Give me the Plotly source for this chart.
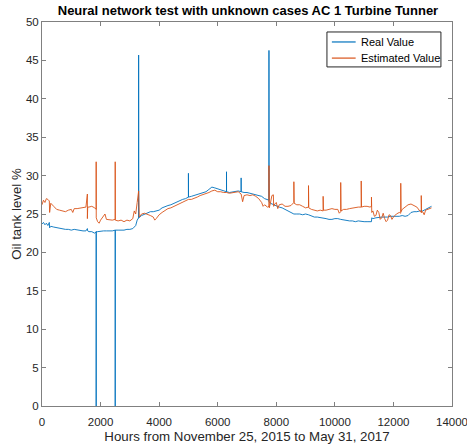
import plotly.graph_objects as go

# Real value (hours, %)
real_h = [0, 50, 100, 150, 200, 250, 260, 300, 400, 500, 600, 700, 800, 900, 1000, 1100, 1200, 1300,
          1400, 1500, 1550, 1560, 1600, 1700, 1800, 1850, 1850, 1852, 1900, 2000, 2100, 2200, 2300, 2400,
          2500, 2500, 2502, 2600, 2700, 2800, 2900, 3000, 3100, 3200, 3250, 3300, 3300, 3302, 3400, 3500,
          3600, 3700, 3800, 3900, 4000, 4100, 4200, 4300, 4400, 4500, 4600, 4700, 4800, 4900, 5000, 5000,
          5002, 5100, 5200, 5300, 5400, 5500, 5600, 5700, 5800, 5900, 6000, 6100, 6200, 6300, 6300, 6302,
          6400, 6500, 6600, 6700, 6800, 6800, 6802, 6900, 7000, 7100, 7200, 7300, 7400, 7500, 7600, 7700,
          7750, 7750, 7752, 7800, 7900, 8000, 8100, 8200, 8300, 8400, 8500, 8600, 8700, 8800, 8900, 9000,
          9100, 9200, 9300, 9400, 9500, 9600, 9700, 9800, 9900, 10000, 10100, 10200, 10300, 10400, 10500,
          10600, 10700, 10800, 10900, 11000, 11100, 11200, 11250, 11260, 11300, 11400, 11500, 11600, 11700,
          11800, 11900, 12000, 12100, 12200, 12300, 12400, 12500, 12600, 12700, 12800, 12900, 13000, 13100,
          13200, 13300]
real_v = [23.7, 23.9, 23.6, 23.8, 23.5, 23.9, 23.2, 23.4, 23.3, 23.2, 23.2, 23.1, 23.0, 23.0, 22.9, 23.0, 22.9, 22.9,
          22.8, 22.8, 23.1, 22.8, 22.7, 22.7, 22.5, 22.7, 0.0, 22.7, 22.7, 22.8, 22.8, 22.8, 22.8, 22.8,
          22.9, 0.0, 22.9, 22.9, 22.9, 22.9, 23.0, 23.0, 23.1, 23.5, 24.2, 24.5, 45.7, 24.5, 24.8, 25.0,
          25.2, 25.3, 25.3, 25.4, 25.5, 25.8, 26.0, 26.1, 26.2, 26.4, 26.6, 26.7, 26.9, 27.0, 27.2, 30.3,
          27.2, 27.3, 27.4, 27.5, 27.6, 27.8, 27.9, 28.2, 28.5, 28.4, 28.3, 28.2, 28.0, 27.9, 30.5, 27.9,
          27.8, 27.9, 28.0, 28.0, 27.9, 29.7, 27.9, 27.8, 27.8, 27.7, 27.6, 27.6, 27.5, 27.3, 27.0, 26.8,
          26.8, 46.3, 26.6, 26.4, 26.2, 26.0, 25.9, 25.8, 25.6, 25.3, 25.1, 25.0, 25.0, 25.0, 24.9, 25.0,
          24.9, 24.7, 24.6, 24.6, 24.5, 24.4, 24.4, 24.3, 24.3, 24.4, 24.4, 24.3, 24.2, 24.1, 24.1,
          24.1, 24.0, 24.1, 24.0, 24.0, 24.0, 24.0, 24.0, 24.5, 24.4, 24.5, 24.6, 24.6, 24.6,
          24.6, 24.7, 24.7, 24.7, 24.7, 24.8, 24.7, 24.8, 25.2, 25.3, 25.3, 25.4, 25.4, 25.6,
          25.8, 26.0]

# Estimated value (hours, %)
est_h = [0, 50, 100, 150, 200, 250, 260, 300, 400, 500, 600, 700, 800, 900, 1000, 1050, 1100, 1200, 1300,
         1400, 1500, 1550, 1550, 1560, 1600, 1700, 1800, 1850, 1850, 1852, 1900, 1950, 2000, 2100, 2150,
         2200, 2300, 2400, 2500, 2500, 2502, 2600, 2700, 2800, 2900, 3000, 3100, 3150, 3200, 3250, 3300,
         3320, 3400, 3500, 3600, 3700, 3800, 3850, 3900, 4000, 4100, 4200, 4300, 4400, 4500, 4600, 4700,
         4800, 4900, 5000, 5100, 5200, 5300, 5400, 5500, 5600, 5700, 5800, 5900, 6000, 6100, 6200, 6300,
         6400, 6500, 6600, 6700, 6800, 6850, 6900, 7000, 7100, 7200, 7300, 7400, 7500, 7550, 7600, 7700,
         7750, 7750, 7760, 7800, 7850, 7900, 7910, 7950, 8000, 8050, 8100, 8200, 8300, 8400, 8500, 8600,
         8600, 8610, 8700, 8800, 8900, 9000, 9100, 9100, 9110, 9200, 9300, 9400, 9500, 9600, 9600, 9610,
         9700, 9800, 9900, 10000, 10100, 10150, 10200, 10200, 10210, 10300, 10400, 10500, 10600, 10700,
         10800, 10900, 10900, 10910, 11000, 11100, 11200, 11250, 11250, 11260, 11300, 11350, 11400, 11450,
         11500, 11550, 11600, 11650, 11700, 11750, 11800, 11850, 11900, 11950, 12000, 12100, 12200, 12250,
         12250, 12260, 12300, 12400, 12500, 12600, 12700, 12800, 12900, 12950, 12950, 12960, 13000, 13050,
         13100, 13200, 13300]
est_v = [26.2, 26.8, 26.5, 27.0, 26.9, 26.7, 25.2, 26.4, 26.0, 25.6, 25.5, 25.4, 25.3, 25.5, 25.6, 25.2, 25.7, 25.7, 25.8,
         25.9, 25.9, 27.6, 24.4, 25.9, 25.9, 26.0, 25.8, 25.6, 31.8, 24.5, 24.0, 23.8, 24.2, 24.8, 25.0,
         24.3, 24.2, 24.2, 24.3, 31.8, 24.2, 24.1, 24.2, 24.0, 24.2, 24.1, 24.4, 25.4, 25.0, 26.5, 28.0,
         24.6, 25.0, 25.1, 25.0, 24.8, 24.6, 24.2, 24.4, 24.9, 25.2, 25.5, 25.7, 25.8, 26.0, 26.2, 26.4,
         26.6, 26.8, 26.9, 26.9, 27.0, 27.2, 27.4, 27.5, 27.6, 27.8, 28.0, 28.1, 27.9, 27.9, 27.8, 27.8,
         27.7, 27.8, 27.9, 27.9, 27.6, 26.6, 27.4, 27.5, 27.4, 27.5, 27.3, 27.0, 26.5, 26.0, 26.2, 25.9,
         26.0, 31.3, 25.8, 26.4, 27.4, 27.5, 26.0, 26.3, 26.5, 25.7, 26.2, 26.3, 26.0, 26.0, 26.1, 26.5,
         29.2, 26.4, 26.2, 26.2, 26.0, 25.8, 25.9, 28.7, 25.8, 25.6, 25.5, 25.4, 25.5, 25.4, 27.3, 25.5,
         25.5, 25.6, 25.7, 25.6, 25.6, 25.1, 25.3, 29.1, 25.4, 25.6, 25.6, 25.7, 25.8, 25.8,
         25.9, 25.9, 29.3, 25.9, 26.0, 26.0, 25.9, 26.0, 27.2, 25.2, 25.4, 24.7, 24.8, 25.5,
         25.2, 24.3, 24.5, 25.1, 24.4, 24.0, 24.2, 24.9, 24.8, 24.3, 24.6, 25.0, 25.2, 25.1,
         29.0, 25.3, 25.6, 25.9, 26.2, 26.3, 26.1, 25.9, 25.4, 25.2, 27.4, 25.2, 25.3, 24.9,
         25.5, 25.6, 25.8]

x_ticks = [0, 2000, 4000, 6000, 8000, 10000, 12000, 14000]
x_labels = ["0", "2000", "4000", "6000", "8000", "10000", "12000", "14000"]
y_ticks = [0, 5, 10, 15, 20, 25, 30, 35, 40, 45, 50]
series_names = ["Real Value", "Estimated Value"]
series_colors = ["#0072BD", "#D95319"]

font = "Liberation Sans, Arial, sans-serif"

fig = go.Figure()
fig.add_trace(go.Scatter(x=real_h, y=real_v, mode="lines", name=series_names[0],
                         line=dict(color=series_colors[0], width=0.9)))
fig.add_trace(go.Scatter(x=est_h, y=est_v, mode="lines", name=series_names[1],
                         line=dict(color=series_colors[1], width=0.9)))

axis_common = dict(showgrid=False, zeroline=False, showline=True, linecolor="#808080", linewidth=1,
                   mirror="ticks", ticks="inside", ticklen=4, tickcolor="#808080", automargin=False,
                   tickfont=dict(family=font, size=11.5, color="#262626"))

# Legend box drawn as a framed key in the top-right corner of the axes
legend_shapes = [dict(type="rect", xref="x domain", yref="y domain", x0=0.695, x1=0.973, y0=0.883, y1=0.974,
                      line=dict(color="#262626", width=1), fillcolor="white", layer="above")]
legend_annots = []
for i, (nm, col) in enumerate(zip(series_names, series_colors)):
    yy = 0.948 - i * 0.042
    legend_shapes.append(dict(type="line", xref="x domain", yref="y domain", x0=0.707, x1=0.765, y0=yy, y1=yy,
                              line=dict(color=col, width=1.2), layer="above"))
    legend_annots.append(dict(xref="x domain", yref="y domain", x=0.773, y=yy, text=nm, showarrow=False,
                              xanchor="left", yanchor="middle",
                              font=dict(family=font, size=11, color="black")))

fig.update_layout(
    width=467, height=447,
    margin=dict(l=42, r=15, t=22, b=41, autoexpand=False),
    paper_bgcolor="white", plot_bgcolor="white",
    title=dict(text="<b>Neural network test with unknown cases AC 1 Turbine Tunner</b>",
               font=dict(family=font, size=13, color="black"),
               x=0.531, xanchor="center", y=0.976, yanchor="middle", automargin=False),
    xaxis=dict(range=[0, 14000], tickvals=x_ticks, ticktext=x_labels, ticklabelstandoff=5,
               ticklabeloverflow="allow",
               title=dict(text="Hours from November 25, 2015 to May 31, 2017",
                          font=dict(family=font, size=13.3, color="#262626"), standoff=4),
               **axis_common),
    yaxis=dict(range=[0, 50], tickvals=y_ticks,
               title=dict(text="Oil tank level %", font=dict(family=font, size=13.3, color="#262626"),
                          standoff=1),
               **axis_common),
    shapes=legend_shapes,
    annotations=legend_annots,
    showlegend=False,
)

fig.write_html("out.html", config={"displayModeBar": False},
               post_script="document.body.style.margin='0';document.body.style.overflow='hidden';")
